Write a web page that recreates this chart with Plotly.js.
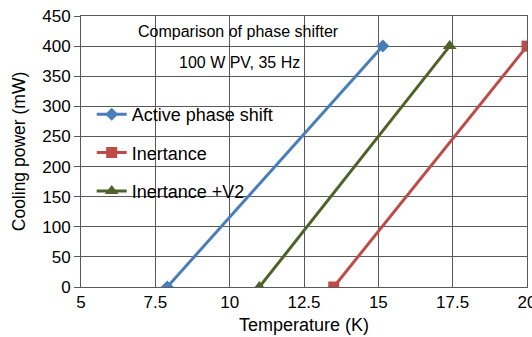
<!DOCTYPE html>
<html><head><meta charset="utf-8">
<script src="https://cdn.plot.ly/plotly-3.0.1.min.js"></script>
<style>html,body{margin:0;padding:0;background:#fff}#c{width:532px;height:337px}</style>
</head><body><div id="c"></div>
<script>
const seriesNames = ["Active phase shift", "Inertance", "Inertance +V2"];
const activeT = [7.9, 15.15];
const activeP = [0, 400];
const inertT = [13.5, 20];
const inertP = [0, 400];
const inertV2T = [11.0, 17.4];
const inertV2P = [0, 400];
const xTicks = [5, 7.5, 10, 12.5, 15, 17.5, 20];
const yTicks = [0, 50, 100, 150, 200, 250, 300, 350, 400, 450];

const traces = [
  {x: activeT, y: activeP, name: seriesNames[0], legendgroup: "a", mode: "lines+markers",
   line: {color: "#4a7ebb", width: 3}, marker: {symbol: "diamond", size: 10, color: "#4a7ebb"}},
  {x: inertT, y: inertP, name: seriesNames[1], legendgroup: "b", mode: "lines+markers",
   line: {color: "#be4b48", width: 3}, marker: {symbol: "square", size: 11, color: "#be4b48"}},
  {x: inertV2T, y: inertV2P, name: seriesNames[2], legendgroup: "c", mode: "lines+markers",
   line: {color: "#4f6228", width: 3}, marker: {symbol: "triangle-up", size: 12, color: "#4f6228"}}
];
const font = "Liberation Sans, Arial, sans-serif";
const layout = {
  width: 532, height: 337,
  margin: {l: 81, r: 5, t: 16, b: 50},
  paper_bgcolor: "#fff", plot_bgcolor: "#fff",
  font: {family: font, size: 17, color: "#000"},
  showlegend: true,
  legend: {x: 0.024, y: 0.705, xanchor: "left", yanchor: "top", bgcolor: "rgba(0,0,0,0)",
    font: {size: 18, family: font}, tracegroupgap: 12, itemwidth: 30},
  xaxis: {range: [5, 20], tickvals: xTicks, ticktext: xTicks.map(String), showgrid: true,
    gridcolor: "#5a5a5a", gridwidth: 1, linecolor: "#5a5a5a", mirror: true, showline: true, zeroline: false,
    ticks: "", tickfont: {size: 17}, ticklabeloverflow: "allow",
    title: {text: "Temperature (K)", font: {size: 18}, standoff: 6}},
  yaxis: {range: [0, 450], tickvals: yTicks, showgrid: true, gridcolor: "#5a5a5a", gridwidth: 1,
    linecolor: "#5a5a5a", mirror: true, showline: true, zeroline: false, ticks: "outside", ticklen: 6, tickcolor: "#5a5a5a",
    tickfont: {size: 17},
    title: {text: "Cooling power (mW)", font: {size: 17.5}, standoff: 12}},
  annotations: [
    {xref: "paper", yref: "paper", x: 0.353, y: 0.941, yanchor: "middle", xanchor: "center",
     text: "Comparison of phase shifter", showarrow: false, font: {size: 16, family: font}},
    {xref: "paper", yref: "paper", x: 0.356, y: 0.830, yanchor: "middle", xanchor: "center",
     text: "100 W PV, 35 Hz", showarrow: false, font: {size: 16, family: font}}
  ]
};
Plotly.newPlot("c", traces, layout, {displayModeBar: false, staticPlot: true});
</script></body></html>
